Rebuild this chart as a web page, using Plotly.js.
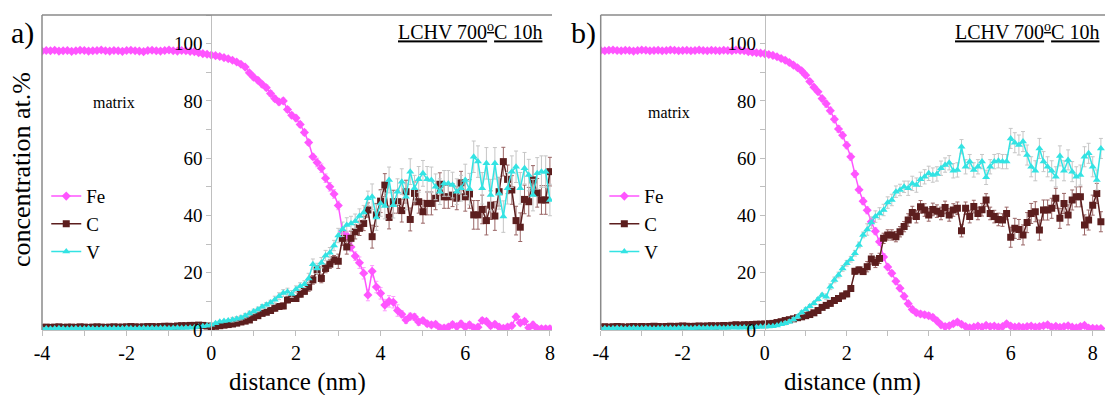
<!DOCTYPE html>
<html>
<head>
<meta charset="utf-8">
<script src="https://cdn.plot.ly/plotly-3.0.1.min.js"></script>
<style>html,body{margin:0;padding:0;background:#fff;}#chart{width:1105px;height:395px;}</style>
</head>
<body>
<div id="chart"></div>
<script>
// ---- data (x grid: -4 nm upward, one profile point every 0.1 nm) ----
const xStart = -4.0;
const xStep = 0.1;

// Panel a)
const feA = [97.4,97.6,97.5,97.7,97.4,97.5,97.6,97.3,97.5,97.7,97.6,97.4,97.5,97.6,97.8,97.5,97.4,97.6,97.5,97.3,97.6,97.7,97.5,97.4,97.2,97.6,97.7,97.5,97.4,97.6,97.8,97.5,97.4,97.6,97.5,97.3,
  97.2,96.8,96.5,96.3,
  96.0,95.8,95.5,95.1,94.7,94.2,93.6,92.8,91.8,89.8,
  88.3,87.2,85.8,84.6,82.6,80.8,79.6,80.0,77.0,75.0,
  74.0,71.8,69.0,65.5,60.5,58.5,56.5,53.0,50.0,47.5,
  43.5,34.5,33.0,29.0,25.8,23.5,19.8,12.2,20.5,15.0,
  12.8,8.7,10.0,9.7,6.8,5.5,3.5,4.7,4.5,2.8,
  3.3,2.2,1.8,2.0,0.8,0.7,1.0,1.9,1.2,2.2,
  1.0,1.8,0.8,1.0,3.3,3.0,1.5,2.0,1.0,0.6,
  1.0,1.5,4.6,2.5,3.0,0.8,1.8,0.5,0.4,0.4,
  0.4];
const cA = [0.9,1.0,0.9,1.0,1.1,0.9,1.0,1.0,0.9,1.1,1.0,0.9,1.0,1.1,1.0,0.9,1.0,1.1,1.0,1.0,1.1,1.2,1.1,1.0,1.1,1.2,1.2,1.1,1.2,1.3,1.3,1.2,1.4,1.5,1.5,1.6,
  1.6,1.7,1.6,1.4,
  1.2,1.3,1.5,1.7,1.9,2.1,2.4,2.8,3.1,3.5,
  4.4,5.0,5.8,6.2,6.8,7.6,8.2,8.4,10.5,11.0,
  11.0,12.5,13.5,15.0,17.5,21.0,18.0,21.5,23.0,24.5,
  24.0,32.0,29.0,32.0,34.3,35.5,37.2,41.9,
  32.6,40.2,45.0,50.6,39.3,44.8,44.8,41.7,48.3,38.6,
  47.7,44.8,41.3,44.2,44.2,46.0,50.9,46.5,46.5,47.1,
  46.0,51.4,46.5,47.5,40.2,40.2,42.1,38.2,43.6,39.8,
  48.3,58.8,52.6,48.9,38.2,35.9,45.6,44.8,52.4,47.9,
  45.4,45.4,55.3];
const vA = [0.4,0.5,0.4,0.5,0.6,0.5,0.4,0.5,0.6,0.5,0.5,0.6,0.5,0.4,0.5,0.6,0.5,0.6,0.5,0.6,0.7,0.6,0.5,0.6,0.7,0.6,0.7,0.6,0.7,0.7,0.6,0.7,0.8,0.7,0.8,0.8,
  0.9,1.1,1.3,1.5,
  1.8,2.4,2.9,3.1,3.3,3.6,3.9,4.3,5.0,5.8,
  6.5,7.2,8.1,8.8,9.6,10.6,11.8,12.9,13.4,12.6,
  14.2,15.3,16.0,18.0,23.0,21.5,23.5,26.0,27.0,29.5,
  33.0,35.2,36.7,37.2,38.0,39.8,41.0,46.0,
  46.5,39.3,44.2,43.3,52.4,43.6,48.3,51.8,46.5,55.3,
  49.5,52.6,54.7,52.6,52.4,50.0,48.3,51.2,51.2,50.6,
  48.3,49.5,52.4,49.2,60.5,58.8,49.5,58.2,47.1,58.2,
  47.7,39.6,49.5,55.3,57.0,49.5,56.5,54.1,47.1,54.7,
  55.3,55.3,45.4];

// Panel b)
const feB = [97.6,97.5,97.7,97.8,97.6,97.5,97.7,97.6,97.4,97.6,97.8,97.7,97.5,97.6,97.7,97.5,97.6,97.8,97.7,97.5,97.6,97.7,97.5,97.6,97.8,97.6,97.5,97.7,97.6,97.5,97.7,97.6,97.5,97.8,97.6,97.5,
  97.2,97.0,96.8,96.7,
  96.5,96.2,95.9,95.4,94.8,94.2,93.4,92.5,91.6,90.5,
  89.0,86.8,84.8,83.2,80.8,79.0,76.6,73.6,70.2,68.0,
  64.5,60.5,54.5,49.0,45.0,41.8,37.8,34.5,30.8,25.5,
  22.0,19.8,17.0,14.6,11.8,9.2,7.2,6.0,5.6,5.3,
  5.0,4.4,3.2,1.8,1.2,1.5,2.2,2.8,2.0,1.2,
  0.8,1.0,1.4,1.0,1.6,1.2,1.4,1.0,1.2,2.2,
  1.4,1.0,1.2,0.9,1.2,1.4,1.0,1.2,1.5,1.8,
  1.0,1.3,0.9,1.2,1.5,1.0,0.8,1.2,1.6,0.7,
  0.6,0.5,0.5];
const cB = [1.0,1.1,1.0,1.1,1.2,1.1,1.0,1.1,1.2,1.1,1.2,1.1,1.2,1.3,1.2,1.1,1.2,1.3,1.2,1.3,1.4,1.3,1.2,1.3,1.4,1.3,1.4,1.5,1.4,1.5,1.6,1.5,1.7,1.8,1.7,1.8,
  1.8,1.9,2.0,2.0,
  2.1,2.2,2.3,2.6,2.9,3.3,3.6,3.9,4.3,4.6,
  5.0,5.4,6.0,6.8,7.9,8.6,9.3,10.3,11.0,11.9,
  12.6,14.5,20.5,21.0,20.4,22.1,24.8,23.6,25.0,32.0,
  33.2,33.2,32.6,34.3,36.1,38.4,41.0,39.6,43.0,
  41.9,40.2,42.1,41.5,40.7,42.8,40.2,41.9,42.5,34.7,
  42.5,39.6,43.1,40.7,42.0,45.4,40.7,39.6,38.6,38.4,
  40.7,32.4,
  35.5,35.1,33.2,37.5,40.7,41.3,34.9,41.9,41.9,42.5,
  46.0,39.0,44.2,40.2,45.4,46.5,46.5,36.7,38.4,43.6,
  47.7,37.8];
const vB = [0.5,0.6,0.5,0.6,0.7,0.6,0.5,0.6,0.7,0.6,0.6,0.7,0.6,0.5,0.6,0.7,0.6,0.7,0.6,0.7,0.8,0.7,0.6,0.7,0.8,0.7,0.8,0.7,0.8,0.8,0.7,0.8,0.9,0.8,0.8,0.9,
  0.8,0.9,1.0,1.1,
  1.1,1.2,1.3,1.6,2.0,2.4,2.9,3.7,4.6,6.1,
  7.2,8.3,9.3,10.7,12.2,11.6,15.1,17.5,19.2,21.5,
  23.3,24.7,26.8,29.7,33.2,35.1,37.5,39.6,40.7,41.9,
  44.5,45.4,48.3,48.9,50.0,49.5,51.2,50.6,52.6,
  53.5,54.7,54.1,54.5,56.5,57.6,58.4,55.6,55.9,64.0,
  57.0,58.8,55.9,57.0,58.8,53.3,57.0,58.8,59.1,58.8,
  58.8,66.9,65.4,64.6,65.8,61.1,57.0,55.6,63.4,58.8,
  57.0,55.6,53.5,60.8,55.6,59.4,55.3,53.5,54.1,60.5,
  61.7,57.0,52.4,63.4];

// error bar sizes: [from distance (nm), half-width (at.%)]
const errFeA = [[-4,0.4],[0,0.6],[1,1.0],[2.5,1.5],[3.5,2.0],[4.5,1.2],[5,1.0]];
const errCA  = [[-4,0.3],[0.5,0.6],[1.5,1.0],[2.3,1.5],[3.0,2.5],[3.8,4.0],[6.0,5.0]];
const errVA  = [[-4,0.3],[0.5,0.8],[1.5,1.2],[2.3,1.8],[3.0,2.5],[3.8,4.5],[6.0,5.5]];
const errFeB = [[-4,0.4],[0.5,0.8],[1.5,1.2],[3,1.0],[4.5,0.8]];
const errCB  = [[-4,0.3],[0.5,0.6],[1.5,1.0],[2.5,1.8],[3.5,2.2],[6,3.5]];
const errVB  = [[-4,0.3],[0.5,0.6],[1.5,1.0],[2.5,2.0],[3.5,2.5],[6,3.5]];

const seriesNames = ['Fe','C','V'];
const panelLabels = ['a)','b)'];
const sampleLabel = 'LCHV 700<sup>o</sup>C 10h';
const regionLabel = 'matrix';
const xTickVals = [-4,-2,0,2,4,6,8];
const xTickText = ['-4','-2','0','2','4','6','8'];
const yTickVals = [0,20,40,60,80,100];
const yTickText = ['0','20','40','60','80','100'];

// ---- build ----
function grid(n){ const xs=[]; for(let i=0;i<n;i++) xs.push(Math.round((xStart+i*xStep)*10)/10); return xs; }
function errs(xs, segs){ return xs.map(x=>{ let e=segs[0][1]; for(const s of segs){ if(x>=s[0]-1e-9) e=s[1]; } return e; }); }

const serif = 'Liberation Serif, Times New Roman, serif';
const colFe='#ff55ff', colC='#5c1e1e', colV='#33e3e3';
const errColFe='#ff9cff', errColC='#9a6666', errColV='#c6c6c6';

function makeTraces(fe,c,v,eFe,eC,eV,xa,ya,leg){
  const xf=grid(fe.length), xc=grid(c.length), xv=grid(v.length);
  return [
    {x:xf,y:fe,type:'scatter',mode:'lines+markers',name:seriesNames[0],xaxis:xa,yaxis:ya,legend:leg,
     line:{color:colFe,width:1.5},marker:{symbol:'diamond',size:7,color:colFe},
     error_y:{type:'data',array:errs(xf,eFe),color:errColFe,thickness:1,width:2}},
    {x:xc,y:c,type:'scatter',mode:'lines+markers',name:seriesNames[1],xaxis:xa,yaxis:ya,legend:leg,
     line:{color:colC,width:1.5},marker:{symbol:'square',size:7,color:colC},
     error_y:{type:'data',array:errs(xc,eC),color:errColC,thickness:1,width:2}},
    {x:xv,y:v,type:'scatter',mode:'lines+markers',name:seriesNames[2],xaxis:xa,yaxis:ya,legend:leg,
     line:{color:colV,width:1.5},marker:{symbol:'triangle-up',size:7,color:colV},
     error_y:{type:'data',array:errs(xv,eV),color:errColV,thickness:1,width:2}}
  ];
}

const data = [].concat(
  makeTraces(feA,cA,vA,errFeA,errCA,errVA,'x','y','legend'),
  makeTraces(feB,cB,vB,errFeB,errCB,errVB,'x2','y2','legend2')
);

const rangeA=[-4,8.05], rangeB=[-4,8.3];
const domA=[0,0.4798], domB=[0.5256,1];
function zeroPos(dom,rng){ return dom[0]+(dom[1]-dom[0])*(0-rng[0])/(rng[1]-rng[0]); }

const axisGrey='#bfbfbf';
function xAxis(dom,rng,anchor){
  return {domain:dom,range:rng,anchor:anchor,showgrid:false,zeroline:false,showline:true,linecolor:axisGrey,linewidth:1,
    tickmode:'array',tickvals:xTickVals,ticktext:xTickText,ticks:'outside',ticklen:5,tickcolor:axisGrey,
    minor:{dtick:1,ticks:'outside',ticklen:5,tickcolor:axisGrey,showgrid:false},
    tickfont:{family:serif,size:20,color:'#000'}};
}
function yAxis(pos){
  return {domain:[0,1],range:[0,110],anchor:'free',position:pos,showgrid:false,zeroline:false,showline:true,linecolor:axisGrey,linewidth:1,
    tickmode:'array',tickvals:yTickVals,ticktext:yTickText,ticks:'outside',ticklen:5,tickcolor:axisGrey,
    minor:{dtick:10,ticks:'outside',ticklen:5,tickcolor:axisGrey,showgrid:false},
    tickfont:{family:serif,size:19,color:'#000'}};
}

const frame='#8a8a8a';
const shapes=[];
[['x','y'],['x2','y2']].forEach(([xa,ya])=>{
  shapes.push({type:'line',xref:xa+' domain',yref:ya+' domain',x0:0,x1:0,y0:0,y1:1,line:{color:frame,width:1.5}});
  shapes.push({type:'line',xref:xa+' domain',yref:ya+' domain',x0:0,x1:1,y0:1,y1:1,line:{color:frame,width:1.5}});
});

function ann(o){ return Object.assign({showarrow:false,xanchor:'center',yanchor:'middle'},o); }
const annotations=[
  ann({text:panelLabels[0],xref:'paper',yref:'paper',x:-0.0179,y:0.943,font:{family:serif,size:30,color:'#000'}}),
  ann({text:panelLabels[1],xref:'paper',yref:'paper',x:0.509,y:0.943,font:{family:serif,size:30,color:'#000'}}),
  ann({text:'<u>'+sampleLabel+'</u>',xref:'x',yref:'y',x:7.87,y:104.5,xanchor:'right',font:{family:serif,size:20,color:'#000'}}),
  ann({text:'<u>'+sampleLabel+'</u>',xref:'x2',yref:'y2',x:8.2,y:104.3,xanchor:'right',font:{family:serif,size:20,color:'#000'}}),
  ann({text:regionLabel,xref:'x',yref:'y',x:-2.29,y:79.6,font:{family:serif,size:16,color:'#000'}}),
  ann({text:regionLabel,xref:'x2',yref:'y2',x:-2.34,y:76.1,font:{family:serif,size:16,color:'#000'}}),
  ann({text:'concentration at.%',xref:'paper',yref:'paper',x:-0.0188,y:0.508,textangle:-90,font:{family:serif,size:26,color:'#000'}}),
  ann({text:'distance (nm)',xref:'paper',yref:'paper',x:(domA[0]+domA[1])/2,y:-0.165,font:{family:serif,size:25,color:'#000'}}),
  ann({text:'distance (nm)',xref:'paper',yref:'paper',x:(domB[0]+domB[1])/2,y:-0.165,font:{family:serif,size:25,color:'#000'}})
];

const legendStyle = {font:{family:serif,size:19,color:'#000'},bgcolor:'rgba(0,0,0,0)',borderwidth:0,yanchor:'top',xanchor:'left',itemwidth:30,tracegroupgap:0};

const layout={
  width:1105,height:395,margin:{l:42,r:0,t:15,b:65},paper_bgcolor:'#fff',plot_bgcolor:'#fff',
  xaxis:xAxis(domA,rangeA,'y'),
  yaxis:yAxis(zeroPos(domA,rangeA)),
  xaxis2:xAxis(domB,rangeB,'y2'),
  yaxis2:yAxis(zeroPos(domB,rangeB)),
  legend:Object.assign({x:0.004,y:0.485},legendStyle),
  legend2:Object.assign({x:0.529,y:0.485},legendStyle),
  shapes:shapes,annotations:annotations
};

Plotly.newPlot('chart',data,layout,{displayModeBar:false,staticPlot:true});
</script>
</body>
</html>
